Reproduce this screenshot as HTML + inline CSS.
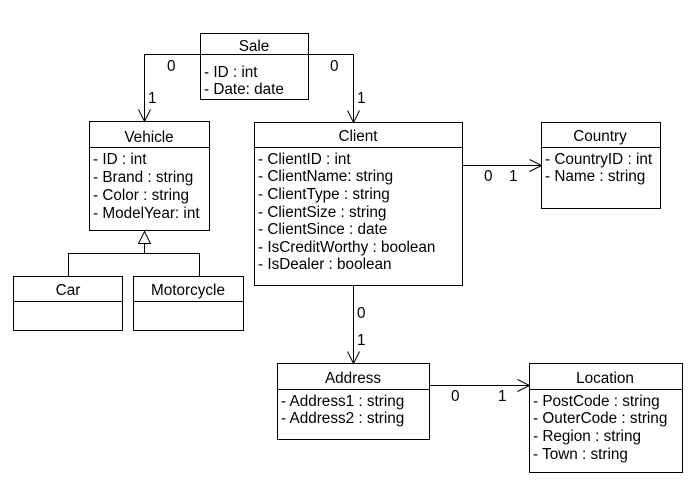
<!DOCTYPE html>
<html><head><style>body{margin:0;background:#fff}svg{display:block}text{font-family:"Liberation Sans",Arial,sans-serif;font-size:15.3px;fill:#000}</style></head>
<body>
<svg width="698" height="492" viewBox="0 0 698 492" xmlns="http://www.w3.org/2000/svg">
<g fill="none" stroke="#000" stroke-width="1" transform="translate(0.5,0.5)">
<rect x="200" y="33" width="108" height="66"/><line x1="200" y1="54" x2="308" y2="54"/>
<rect x="89" y="121" width="120" height="109"/><line x1="89" y1="147" x2="209" y2="147"/>
<rect x="13" y="276" width="109" height="54"/><line x1="13" y1="301" x2="122" y2="301"/>
<rect x="133" y="276" width="110" height="54"/><line x1="133" y1="301" x2="243" y2="301"/>
<rect x="254" y="122" width="208" height="163"/><line x1="254" y1="147" x2="462" y2="147"/>
<rect x="541" y="122" width="119" height="86"/><line x1="541" y1="147" x2="660" y2="147"/>
<rect x="277" y="363" width="152" height="76"/><line x1="277" y1="389" x2="429" y2="389"/>
<rect x="529" y="363" width="153" height="109"/><line x1="529" y1="389" x2="682" y2="389"/>
<polyline points="200,54 144,54 144,121"/><polyline points="138,109 144,121 150,109"/>
<polyline points="308,54 353,54 353,122"/><polyline points="347,110 353,122 359,110"/>
<line x1="462" y1="165" x2="541" y2="165"/><polyline points="529,159 541,165 529,171"/>
<line x1="353" y1="285" x2="353" y2="363"/><polyline points="347,351 353,363 359,351"/>
<line x1="429" y1="385" x2="529" y2="385"/><polyline points="517,379 529,385 517,391"/>
<polygon points="144,231 138,243 150,243" fill="#fff"/>
<line x1="144" y1="243" x2="144" y2="253"/>
<polyline points="68,276 68,253 199,253 199,276"/>
</g>
<g>
<text x="254" y="51" text-anchor="middle">Sale</text>
<text x="204" y="77">- ID : int</text>
<text x="204" y="94">- Date: date</text>
<text x="149" y="142" text-anchor="middle">Vehicle</text>
<text x="93" y="164">- ID : int</text>
<text x="93" y="182">- Brand : string</text>
<text x="93" y="200">- Color : string</text>
<text x="93" y="218">- ModelYear: int</text>
<text x="68" y="295" text-anchor="middle">Car</text>
<text x="188" y="295" text-anchor="middle">Motorcycle</text>
<text x="358" y="141" text-anchor="middle">Client</text>
<text x="258" y="164">- ClientID : int</text>
<text x="258" y="181">- ClientName: string</text>
<text x="258" y="199">- ClientType : string</text>
<text x="258" y="217">- ClientSize : string</text>
<text x="258" y="234">- ClientSince : date</text>
<text x="258" y="252">- IsCreditWorthy : boolean</text>
<text x="258" y="269">- IsDealer : boolean</text>
<text x="600" y="141" text-anchor="middle">Country</text>
<text x="545" y="164">- CountryID : int</text>
<text x="545" y="181">- Name : string</text>
<text x="353" y="383" text-anchor="middle">Address</text>
<text x="281" y="406">- Address1 : string</text>
<text x="281" y="423">- Address2 : string</text>
<text x="605" y="383" text-anchor="middle">Location</text>
<text x="533" y="406">- PostCode : string</text>
<text x="533" y="423">- OuterCode : string</text>
<text x="533" y="441">- Region : string</text>
<text x="533" y="459">- Town : string</text>
<text x="167" y="71">0</text>
<text x="148" y="103">1</text>
<text x="330" y="71">0</text>
<text x="357" y="103">1</text>
<text x="484" y="181">0</text>
<text x="509" y="181">1</text>
<text x="357" y="318">0</text>
<text x="357" y="345">1</text>
<text x="451" y="401">0</text>
<text x="498" y="401">1</text>
</g>
</svg>
</body></html>
